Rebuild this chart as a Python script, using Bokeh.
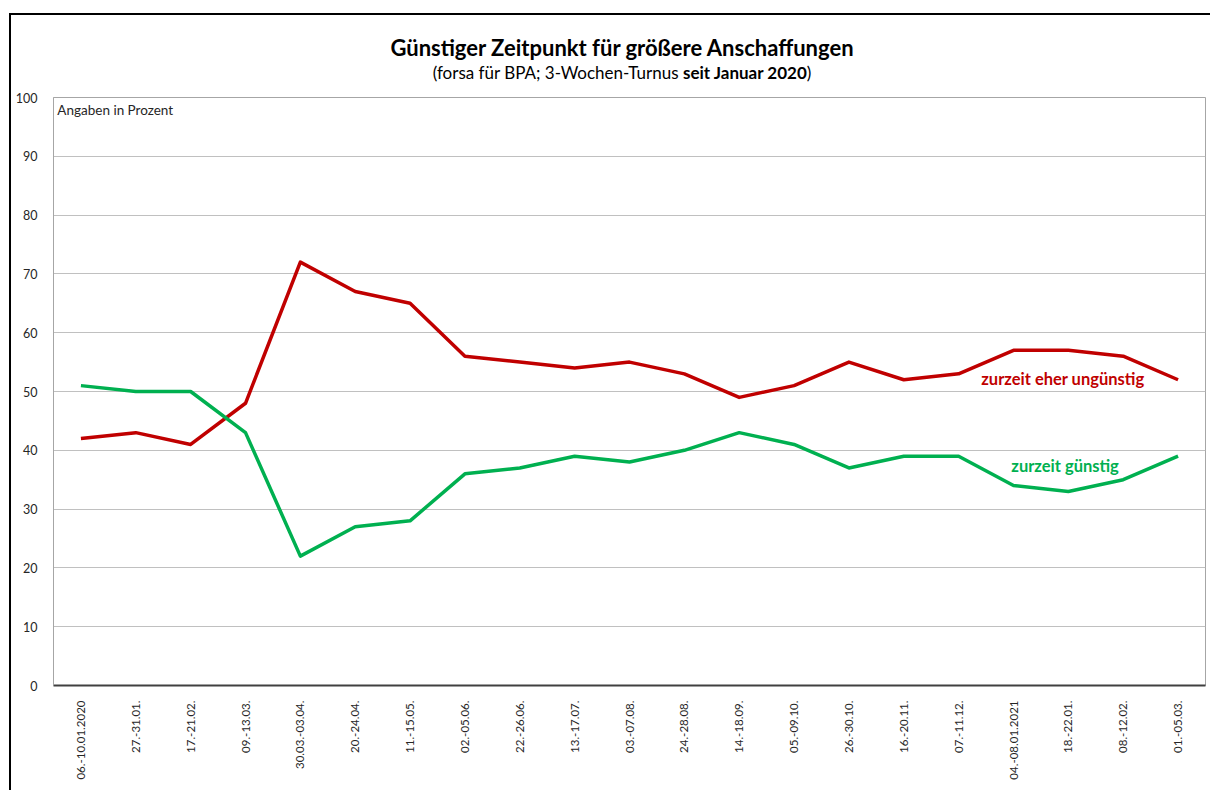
from bokeh.plotting import figure
from bokeh.models import Range1d, FactorRange, Label, FixedTicker, Div
from bokeh.layouts import column
from bokeh.embed import file_html
from bokeh.resources import INLINE

title_text = "Günstiger Zeitpunkt für größere Anschaffungen"
subtitle_parts = ["(forsa für BPA; 3-Wochen-Turnus ", "seit Januar 2020", ")"]
unit_note = "Angaben in Prozent"
periods = ["06.-10.01.2020", "27.-31.01.", "17.-21.02.", "09.-13.03.", "30.03.-03.04.",
           "20.-24.04.", "11.-15.05.", "02.-05.06.", "22.-26.06.", "13.-17.07.",
           "03.-07.08.", "24.-28.08.", "14.-18.09.", "05.-09.10.", "26.-30.10.",
           "16.-20.11.", "07.-11.12.", "04.-08.01.2021", "18.-22.01.", "08.-12.02.",
           "01.-05.03."]
eher_unguenstig = [42, 43, 41, 48, 72, 67, 65, 56, 55, 54, 55, 53, 49, 51, 55, 52, 53, 57, 57, 56, 52]
guenstig = [51, 50, 50, 43, 22, 27, 28, 36, 37, 39, 38, 40, 43, 41, 37, 39, 39, 34, 33, 35, 39]
y_ticks = list(range(0, 101, 10))

FONT = "Lato"
RED = "#C00000"
GREEN = "#00B050"

W = 1199
HEAD_H = 72

head_html = (
    f'<div style="width:{W}px;height:{HEAD_H}px;font-family:{FONT};color:#000;'
    'text-align:center;padding-left:23px;padding-top:20px;box-sizing:border-box;">'
    f'<div style="font-size:22px;font-weight:bold;line-height:26px;">{title_text}</div>'
    f'<div style="font-size:17px;line-height:22px;margin-top:1px;">{subtitle_parts[0]}'
    f'<b>{subtitle_parts[1]}</b>{subtitle_parts[2]}</div></div>'
)
head = Div(text=head_html, width=W, height=HEAD_H, margin=0)

p = figure(width=W, height=703, output_backend="svg", toolbar_location=None,
           x_range=FactorRange(*periods, range_padding=0), y_range=Range1d(0, 100),
           min_border_left=42, min_border_right=5, min_border_top=10, min_border_bottom=105,
           margin=0)

p.background_fill_color = "white"
p.border_fill_color = "white"
p.outline_line_color = "#a6a6a6"
p.outline_line_width = 1

p.xgrid.grid_line_color = None
p.ygrid.grid_line_color = "#c0c0c0"
p.ygrid.grid_line_width = 1

p.yaxis.ticker = FixedTicker(ticks=y_ticks)
p.yaxis.axis_line_color = "#a6a6a6"
p.yaxis.major_tick_line_color = None
p.yaxis.minor_tick_line_color = None
p.yaxis.major_label_text_font = FONT
p.yaxis.major_label_text_font_size = "12.5px"
p.yaxis.major_label_text_color = "#262626"
p.yaxis.major_label_standoff = 10

p.xaxis.axis_line_color = "#404040"
p.xaxis.axis_line_width = 2
p.xaxis.major_tick_line_color = None
p.xaxis.minor_tick_line_color = None
p.xaxis.major_label_orientation = 3.14159265 / 2
p.xaxis.major_label_text_font = FONT
p.xaxis.major_label_text_font_size = "11.5px"
p.xaxis.major_label_text_color = "#262626"
p.xaxis.major_label_standoff = 9

p.line(x=periods, y=eher_unguenstig, line_color=RED, line_width=3.5, line_join="round")
p.line(x=periods, y=guenstig, line_color=GREEN, line_width=3.5, line_join="round")

p.add_layout(Label(x=0.07, y=97.8, text=unit_note, text_font=FONT,
                   text_font_size="13.5px", text_align="left", text_baseline="middle",
                   text_color="#262626"))

p.add_layout(Label(x=18.40, y=52.2, text="zurzeit eher ungünstig", text_font=FONT,
                   text_font_size="16.5px", text_font_style="bold", text_color=RED,
                   text_align="center", text_baseline="middle"))
p.add_layout(Label(x=18.44, y=37.3, text="zurzeit günstig", text_font=FONT,
                   text_font_size="16.5px", text_font_style="bold", text_color=GREEN,
                   text_align="center", text_baseline="middle"))

layout = column(head, p, spacing=0,
                styles={"margin-left": "9px", "margin-top": "13px",
                        "border-left": "2px solid #000", "border-top": "2px solid #000"})

open("out.html", "w").write(file_html(layout, INLINE))
